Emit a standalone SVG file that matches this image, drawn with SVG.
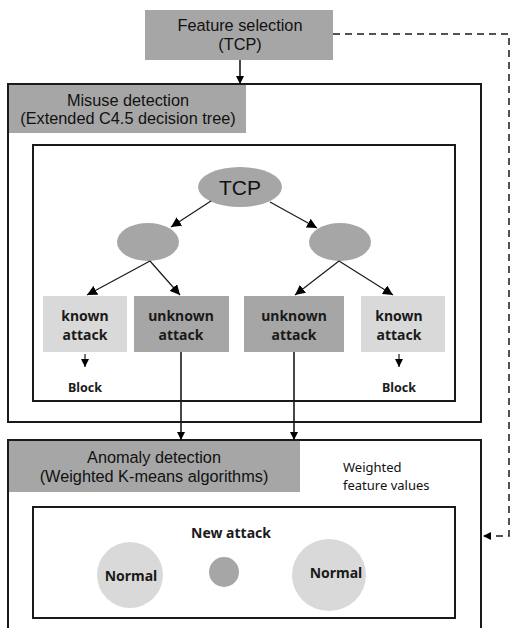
<svg xmlns="http://www.w3.org/2000/svg" width="510" height="628" viewBox="0 0 510 628">
<style>
.box{fill:#fff;stroke:#1a1a1a;stroke-width:2}
.lbl{fill:#a6a6a6}
.dk{fill:#a6a6a6}
.lt{fill:#d9d9d9}
.t1{font-family:"Liberation Sans",Arial,sans-serif;font-size:16.3px;fill:#111;text-anchor:middle}
.t2{font-family:"Noto Sans",sans-serif;font-weight:bold;font-size:14px;fill:#1a1a1a;text-anchor:middle}
.t3{font-family:"Noto Sans",sans-serif;font-size:13px;fill:#111}
.ln{stroke:#1a1a1a;stroke-width:1.2;fill:none}
.ln2{stroke:#1a1a1a;stroke-width:1.6;fill:none}
.dash{stroke:#1a1a1a;stroke-width:1.5;fill:none;stroke-dasharray:7,5}
</style>
<defs>
<marker id="ah" viewBox="0 0 10 10" refX="10" refY="5" markerWidth="8" markerHeight="8" markerUnits="userSpaceOnUse" orient="auto">
<path d="M0,0 L10,5 L0,10 z" fill="#000"/>
</marker>
<marker id="ah2" viewBox="0 0 10 10" refX="10" refY="5" markerWidth="10" markerHeight="10" markerUnits="userSpaceOnUse" orient="auto">
<path d="M0,0 L10,5 L0,10 z" fill="#000"/>
</marker>
</defs>

<g id="misuse">
<rect class="box" x="8" y="84" width="473" height="338"/>
<rect class="lbl" x="9" y="85" width="237" height="48"/>
<text class="t1" x="128" y="106">Misuse detection</text>
<text class="t1" x="128" y="124">(Extended C4.5 decision tree)</text>
<rect class="box" x="33" y="145" width="422" height="256"/>
</g>

<g id="anomaly">
<rect class="box" x="8" y="440" width="473" height="200"/>
<rect class="lbl" x="9" y="441" width="291" height="51"/>
<text class="t1" x="154" y="463">Anomaly detection</text>
<text class="t1" x="154" y="482">(Weighted K-means algorithms)</text>
<text class="t3" x="343" y="472">Weighted</text>
<text class="t3" x="343" y="490">feature values</text>
<rect class="box" x="33" y="507" width="422" height="111"/>
</g>

<g id="feature">
<rect class="lbl" x="145" y="10" width="188" height="50"/>
<text class="t1" x="240" y="31">Feature selection</text>
<text class="t1" x="240" y="50">(TCP)</text>
</g>

<g id="tcp">
<ellipse class="dk" cx="240" cy="187" rx="42" ry="20"/>
<text x="240" y="195" style="font-family:'Liberation Sans',Arial,sans-serif;font-size:21px;fill:#111;text-anchor:middle">TCP</text>
</g>
<g id="nodeL"><ellipse class="dk" cx="148" cy="242" rx="31" ry="19"/></g>
<g id="nodeR"><ellipse class="dk" cx="340" cy="242" rx="31" ry="19"/></g>

<g id="known1">
<rect class="lt" x="43" y="296" width="84" height="56"/>
<text class="t2" x="85" y="321">known</text>
<text class="t2" x="85" y="340">attack</text>
</g>
<g id="unknown1">
<rect class="dk" x="134" y="296" width="95" height="56"/>
<text class="t2" x="181" y="321">unknown</text>
<text class="t2" x="181" y="340">attack</text>
</g>
<g id="unknown2">
<rect class="dk" x="244" y="296" width="100" height="56"/>
<text class="t2" x="294" y="321">unknown</text>
<text class="t2" x="294" y="340">attack</text>
</g>
<g id="known2">
<rect class="lt" x="361" y="296" width="84" height="56"/>
<text class="t2" x="399" y="321">known</text>
<text class="t2" x="399" y="340">attack</text>
</g>
<g id="block1"><text class="t2" x="85" y="392" style="font-size:12.5px">Block</text></g>
<g id="block2"><text class="t2" x="399" y="392" style="font-size:12.5px">Block</text></g>

<g id="normal1">
<circle class="lt" cx="130" cy="575" r="33"/>
<text class="t2" x="131" y="581">Normal</text>
</g>
<g id="newattack">
<text class="t2" x="231" y="538">New attack</text>
<circle class="dk" cx="224" cy="572" r="15"/>
</g>
<g id="normal2">
<ellipse class="lt" cx="329" cy="575" rx="37" ry="36"/>
<text class="t2" x="336" y="578">Normal</text>
</g>

<g id="connectors">
<line class="ln2" x1="240" y1="60" x2="240" y2="84" marker-end="url(#ah)"/>
<line class="ln" x1="211" y1="201" x2="171" y2="227" marker-end="url(#ah2)"/>
<line class="ln" x1="270" y1="202" x2="317" y2="228" marker-end="url(#ah2)"/>
<line class="ln" x1="150" y1="261" x2="87" y2="295" marker-end="url(#ah2)"/>
<line class="ln" x1="150" y1="261" x2="180" y2="295" marker-end="url(#ah2)"/>
<line class="ln" x1="339" y1="261" x2="295" y2="295" marker-end="url(#ah2)"/>
<line class="ln" x1="339" y1="261" x2="393" y2="295" marker-end="url(#ah2)"/>
<line class="ln" x1="85" y1="354" x2="85" y2="367" marker-end="url(#ah)"/>
<line class="ln" x1="399" y1="354" x2="399" y2="367" marker-end="url(#ah)"/>
<line class="ln2" x1="181" y1="352" x2="181" y2="440" marker-end="url(#ah)"/>
<line class="ln2" x1="294" y1="352" x2="294" y2="440" marker-end="url(#ah)"/>
<path class="dash" d="M333,34 H509 V536 H484"/>
<path d="M483,536 L491,532 L491,540 z" fill="#000"/>
</g>
</svg>
